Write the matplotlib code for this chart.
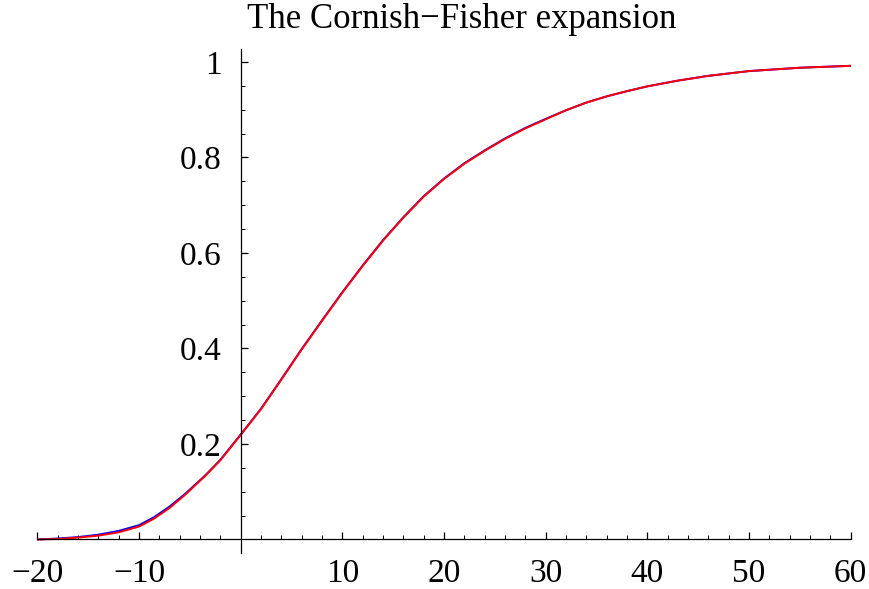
import matplotlib
matplotlib.use("Agg")
import matplotlib.pyplot as plt
from matplotlib.ticker import MultipleLocator, FixedLocator

plt.rcParams['font.family'] = ['Liberation Serif', 'DejaVu Serif']

title = "The Cornish\u2212Fisher expansion"

x_red = [-20, -18, -16, -14, -12, -10, -8.5, -7, -5.5, -3.5, -2, 0, 2, 4, 6, 8, 10, 12,
         14, 16, 18, 20, 22, 24, 26, 28, 30, 32, 34, 36, 38, 40, 43, 46, 50, 55, 60]
y_red = [0.000, 0.001, 0.004, 0.008, 0.015, 0.027, 0.044, 0.066, 0.093, 0.133, 0.166,
         0.219, 0.273, 0.335, 0.398, 0.458, 0.517, 0.573, 0.626, 0.674, 0.718, 0.755,
         0.787, 0.814, 0.839, 0.861, 0.880, 0.899, 0.915, 0.928, 0.939, 0.949, 0.961,
         0.971, 0.981, 0.988, 0.992]

x_blue = [-20, -18, -16, -14, -12, -10, -8.5, -7, -5.5, -3.5, -2, 0, 2, 4, 6, 8, 10, 12,
          14, 16, 18, 20, 22, 24, 26, 28, 30, 32, 34, 36, 38, 40, 43, 46, 50, 55, 60]
y_blue = [0.000, 0.002, 0.005, 0.010, 0.018, 0.030, 0.047, 0.069, 0.095, 0.134, 0.167,
          0.220, 0.274, 0.336, 0.399, 0.459, 0.518, 0.574, 0.627, 0.675, 0.719, 0.756,
          0.788, 0.815, 0.840, 0.862, 0.881, 0.899, 0.915, 0.928, 0.939, 0.949, 0.961,
          0.971, 0.981, 0.988, 0.992]

x_ticks = [-20, -10, 10, 20, 30, 40, 50, 60]
y_ticks = [0.2, 0.4, 0.6, 0.8, 1.0]
y_tick_labels = ["0.2", "0.4", "0.6", "0.8", "1"]

W, H = 869, 589
fig = plt.figure(figsize=(W / 100, H / 100), dpi=100)
left_px, right_px = 37.4, 850.7
top_px, bot_px = 49.3, 552.7
ax = fig.add_axes([left_px / W, 1 - bot_px / H, (right_px - left_px) / W, (bot_px - top_px) / H])

ax.plot(x_blue, y_blue, color='#0000ff', lw=1.4, solid_joinstyle='round')
ax.plot(x_red, y_red, color='#ff0000', lw=1.4, solid_joinstyle='round')

ax.set_xlim(-20, 60)
ax.set_ylim(-0.0277, 1.0266)

for s in ['top', 'right']:
    ax.spines[s].set_visible(False)
ax.spines['left'].set_position(('data', 0))
ax.spines['bottom'].set_position(('data', 0))
for s in ['left', 'bottom']:
    ax.spines[s].set_linewidth(0.9)

ax.xaxis.set_major_locator(FixedLocator(x_ticks))
ax.xaxis.set_minor_locator(MultipleLocator(2))
ax.set_xticklabels(["\u2212" + str(-t) if t < 0 else str(t) for t in x_ticks])
ax.yaxis.set_major_locator(FixedLocator(y_ticks))
ax.yaxis.set_minor_locator(FixedLocator([0.05 * i for i in range(1, 21)]))
ax.set_yticklabels(y_tick_labels)

ax.tick_params(axis='both', which='major', direction='in', length=5, width=0.9,
               labelsize=24, color='black')
ax.tick_params(axis='both', which='minor', direction='in', length=3, width=0.7,
               color='black')
ax.tick_params(axis='x', which='major', pad=14)
ax.tick_params(axis='y', which='major', pad=14)

fig.text(462 / W, 1 - 3 / H, title, ha='center', va='top', fontsize=25)

fig.savefig("out.png", dpi=100)
